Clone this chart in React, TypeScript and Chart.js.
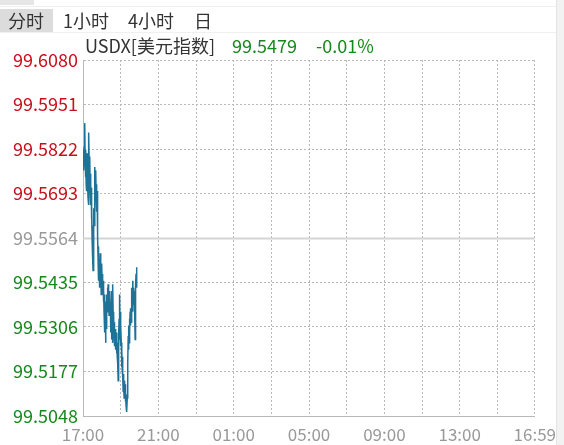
import React, { useEffect, useRef } from "react";
import { Chart, registerables } from "chart.js";

Chart.register(...registerables);

// minute-by-minute prices from 17:00
const prices: number[] = [
  99.5822, 99.5790, 99.5810,
  99.5760, 99.5830, 99.5800,
  99.5897, 99.5780, 99.5740,
  99.5820, 99.5720, 99.5790,
  99.5700, 99.5810, 99.5760, 99.5730,
  99.5680, 99.5740, 99.5660,
  99.5870, 99.5770, 99.5700,
  99.5800, 99.5690, 99.5750,
  99.5660, 99.5710, 99.5620,
  99.5640, 99.5560, 99.5600, 99.5510,
  99.5470, 99.5540, 99.5580,
  99.5650, 99.5600, 99.5700,
  99.5770, 99.5700, 99.5740,
  99.5760, 99.5680, 99.5720,
  99.5640, 99.5700, 99.5610,
  99.5570, 99.5500, 99.5540, 99.5440,
  99.5480, 99.5420, 99.5500,
  99.5460, 99.5520, 99.5430,
  99.5470, 99.5400, 99.5450,
  99.5490, 99.5430, 99.5460,
  99.5400, 99.5440, 99.5380, 99.5420,
  99.5350, 99.5400, 99.5320,
  99.5290, 99.5350, 99.5260,
  99.5330, 99.5380, 99.5300,
  99.5400, 99.5350, 99.5420,
  99.5380, 99.5430, 99.5360,
  99.5410, 99.5340, 99.5390, 99.5350,
  99.5410, 99.5370, 99.5330,
  99.5290, 99.5340, 99.5270,
  99.5410, 99.5320, 99.5260,
  99.5430, 99.5350, 99.5300,
  99.5340, 99.5280, 99.5320, 99.5250,
  99.5300, 99.5250, 99.5280,
  99.5240, 99.5290, 99.5230,
  99.5270, 99.5220, 99.5260,
  99.5200, 99.5150, 99.5230,
  99.5280, 99.5330, 99.5270,
  99.5400, 99.5300, 99.5350, 99.5250,
  99.5310, 99.5260, 99.5190,
  99.5240, 99.5180, 99.5220,
  99.5160, 99.5120, 99.5170,
  99.5130, 99.5100, 99.5150,
  99.5110, 99.5140, 99.5090,
  99.5120, 99.5080, 99.5110, 99.5070,
  99.5060, 99.5100, 99.5140,
  99.5200, 99.5280, 99.5240,
  99.5310, 99.5260, 99.5330,
  99.5290, 99.5350, 99.5310,
  99.5360, 99.5320, 99.5390,
  99.5420, 99.5360, 99.5400, 99.5350,
  99.5440, 99.5390, 99.5420,
  99.5370, 99.5410, 99.5380,
  99.5350, 99.5270, 99.5380,
  99.5430, 99.5460, 99.5420,
  99.5470, 99.5479,
];

const yTickValues: number[] = [99.5048, 99.5177, 99.5306, 99.5435, 99.5564, 99.5693, 99.5822, 99.5951, 99.608];
const yTickLabels: string[] = ["99.5048", "99.5177", "99.5306", "99.5435", "99.5564", "99.5693", "99.5822", "99.5951", "99.6080"];
const prevClose = 99.5564;

const xGridMinutes: number[] = [0, 120, 240, 360, 480, 600, 720, 840, 960, 1080, 1200, 1320, 1439];
const xLabelMinutes: number[] = [0, 240, 480, 720, 960, 1200, 1439];
const xLabels: string[] = ["17:00", "21:00", "01:00", "05:00", "09:00", "13:00", "16:59"];

const tabs: string[] = ["分时", "1小时", "4小时", "日"];
const titleName = "USDX[美元指数]";
const titlePrice = "99.5479";
const titleChange = "-0.01%";

const RED = "#c8101a";
const GREEN = "#17891c";
const GRAY = "#999999";
const FONT = "'Noto Sans CJK SC', 'Noto Sans', sans-serif";

export default function App() {
  const ref = useRef<HTMLCanvasElement | null>(null);

  useEffect(() => {
    if (!ref.current) return;
    const prevLine = {
      id: "prevLine",
      beforeDatasetsDraw(chart: any) {
        const { ctx, chartArea, scales } = chart;
        const y = Math.round(scales.y.getPixelForValue(prevClose)) + 0.5;
        ctx.save();
        ctx.strokeStyle = "#d4d4d4";
        ctx.lineWidth = 2;
        ctx.beginPath();
        ctx.moveTo(chartArea.left, y);
        ctx.lineTo(chartArea.right, y);
        ctx.stroke();
        ctx.restore();
      },
    };
    const chart = new Chart(ref.current, {
      type: "line",
      data: {
        datasets: [
          {
            data: prices.map((p, i) => ({ x: i, y: p })),
            borderColor: "#1f7399",
            borderWidth: 1.5,
            pointRadius: 0,
            tension: 0,
            fill: false,
          },
        ],
      },
      options: {
        animation: false,
        responsive: false,
        maintainAspectRatio: false,
        layout: { padding: { top: 60, right: 27, left: 0, bottom: 0 } },
        plugins: { legend: { display: false }, tooltip: { enabled: false } },
        scales: {
          x: {
            type: "linear",
            min: 0,
            max: 1439,
            afterBuildTicks: (scale: any) => {
              scale.ticks = xGridMinutes.map((v) => ({ value: v }));
            },
            afterFit: (scale: any) => {
              scale.height = 29;
            },
            grid: { color: "#b8b8b8", lineWidth: 1, drawTicks: false },
            border: { display: true, color: "#b8b8b8", dash: [2, 2] },
            ticks: {
              autoSkip: false,
              maxRotation: 0,
              padding: 8,
              color: GRAY,
              font: { family: FONT, size: 17 },
              callback: (v: any) => {
                const k = xLabelMinutes.indexOf(Number(v));
                return k >= 0 ? xLabels[k] : "";
              },
            },
          },
          y: {
            type: "linear",
            min: 99.5048,
            max: 99.608,
            afterBuildTicks: (scale: any) => {
              scale.ticks = yTickValues.map((v) => ({ value: v }));
            },
            afterFit: (scale: any) => {
              scale.width = 83;
            },
            grid: {
              color: (c: any) => (c.index === 4 ? "rgba(0,0,0,0)" : "#b8b8b8"),
              lineWidth: 1,
              drawTicks: false,
            },
            border: { display: true, color: "#b8b8b8", dash: [2, 2] },
            ticks: {
              padding: 5,
              font: { family: FONT, size: 18 },
              color: (c: any) => (c.index > 4 ? RED : c.index === 4 ? GRAY : GREEN),
              callback: (_v: any, i: number) => yTickLabels[i],
            },
          },
        },
      },
      plugins: [prevLine],
    });
    return () => chart.destroy();
  }, []);

  const tabLefts = [0, 63, 128, 194];

  return (
    <div
      style={{
        position: "fixed",
        left: 0,
        top: 0,
        width: 564,
        height: 445,
        background: "#fff",
        overflow: "hidden",
        fontFamily: FONT,
      }}
    >
      <canvas ref={ref} width={564} height={445} style={{ position: "absolute", left: 0, top: 0, width: 564, height: 445 }} />
      <div style={{ position: "absolute", left: 0, top: 0, width: 34, height: 5, background: "#e6e6e6" }} />
      <div style={{ position: "absolute", left: 0, top: 6, width: 556, height: 1, background: "#efefef" }} />
      <div style={{ position: "absolute", left: 0, top: 32, width: 556, height: 1, background: "#f0f0f0" }} />
      <div style={{ position: "absolute", left: 556, top: 0, width: 8, height: 445, background: "#f2f2f2", borderLeft: "1px solid #e4e4e4" }} />
      <div style={{ position: "absolute", left: 0, top: 9, height: 23, fontSize: 18, color: "#333", lineHeight: "23px" }}>
        {tabs.map((t, i) => (
          <div
            key={t}
            style={{
              position: "absolute",
              left: tabLefts[i],
              top: 0,
              height: 23,
              padding: i === 0 ? "0 8px" : 0,
              width: i === 0 ? 37 : undefined,
              whiteSpace: "nowrap",
              background: i === 0 ? "#dcdcdc" : "transparent",
            }}
          >
            {t}
          </div>
        ))}
      </div>
      <div style={{ position: "absolute", left: 85, top: 33, fontSize: 18, lineHeight: "24px", whiteSpace: "nowrap", color: "#333" }}>
        <span>{titleName}</span>
        <span style={{ color: GREEN, marginLeft: 17 }}>{titlePrice}</span>
        <span style={{ color: GREEN, marginLeft: 19 }}>{titleChange}</span>
      </div>
    </div>
  );
}
